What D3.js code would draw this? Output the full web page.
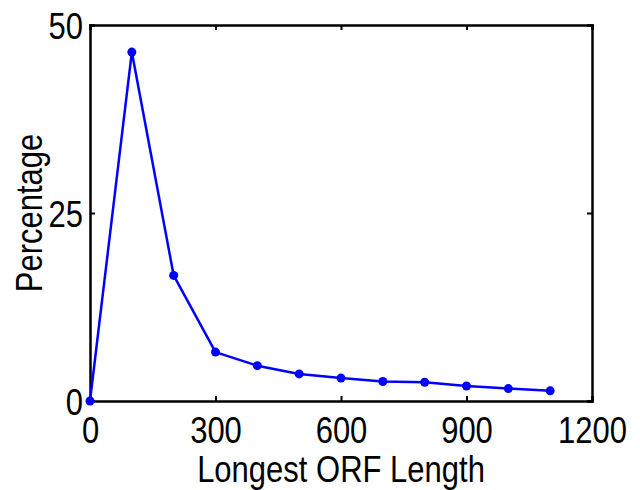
<!DOCTYPE html>
<html>
<head>
<meta charset="utf-8">
<script src="https://cdn.jsdelivr.net/npm/d3@7"></script>
<style>
  html, body { margin: 0; padding: 0; background: #fff; }
  svg { display: block; }
</style>
</head>
<body>
<div id="chart"></div>
<script>
// ORF length bins and percentage in each bin
const orfLengths = [0, 100, 200, 300, 400, 500, 600, 700, 800, 900, 1000, 1100];
const percentages = [0, 46.4, 16.7, 6.5, 4.7, 3.6, 3.05, 2.6, 2.5, 2.0, 1.65, 1.35];
const xTicks = [0, 300, 600, 900, 1200];
const yTicks = [0, 25, 50];

const width = 640;
const height = 490;
const margin = { top: 25, right: 48, bottom: 89, left: 90 };
const innerW = width - margin.left - margin.right;
const innerH = height - margin.top - margin.bottom;

// the figure's text is tall and narrow, so stretch a regular sans vertically
const font = "'Liberation Sans', Arial, sans-serif";
const fontSize = 31;
const stretch = 'scale(1,1.2)';

const data = orfLengths.map((d, i) => ({ len: d, pct: percentages[i] }));

const x = d3.scaleLinear().domain([0, 1200]).range([0, innerW]);
const y = d3.scaleLinear().domain([0, 50]).range([innerH, 0]);

const svg = d3.select('#chart')
  .append('svg')
  .attr('width', width)
  .attr('height', height)
  .style('font-family', font);

const g = svg.append('g')
  .attr('transform', `translate(${margin.left},${margin.top})`);

const styleBox = a => {
  a.select('.domain').attr('stroke', '#000').attr('stroke-width', 2.5);
  a.selectAll('.tick line').attr('stroke', '#000').attr('stroke-width', 2);
};

// Bottom axis with inward ticks
g.append('g')
  .attr('transform', `translate(0,${innerH})`)
  .call(d3.axisBottom(x).tickValues(xTicks).tickSize(-5).tickFormat(d3.format('d')))
  .call(styleBox)
  .call(a => a.selectAll('.tick text')
    .attr('y', 0).attr('dy', 0)
    .attr('transform', `translate(0,42) ${stretch}`)
    .attr('fill', '#000')
    .attr('font-size', fontSize)
    .attr('font-family', font));

// Left axis
g.append('g')
  .call(d3.axisLeft(y).tickValues(yTicks).tickSize(-5))
  .call(styleBox)
  .call(a => a.selectAll('.tick text')
    .attr('x', 0).attr('dy', '0.36em')
    .attr('transform', `translate(-7,0) ${stretch}`)
    .attr('fill', '#000')
    .attr('font-size', fontSize)
    .attr('font-family', font));

// Top and right box edges with mirrored ticks
g.append('g')
  .call(d3.axisTop(x).tickValues(xTicks).tickSize(-5).tickFormat(''))
  .call(styleBox);

g.append('g')
  .attr('transform', `translate(${innerW},0)`)
  .call(d3.axisRight(y).tickValues(yTicks).tickSize(-5).tickFormat(''))
  .call(styleBox);

// Line
const line = d3.line().x(d => x(d.len)).y(d => y(d.pct));

g.append('path')
  .datum(data)
  .attr('fill', 'none')
  .attr('stroke', '#0000ff')
  .attr('stroke-width', 2.5)
  .attr('stroke-linejoin', 'round')
  .attr('d', line);

g.selectAll('circle')
  .data(data)
  .join('circle')
  .attr('cx', d => x(d.len))
  .attr('cy', d => y(d.pct))
  .attr('r', 4.5)
  .attr('fill', '#0000ff');

// Axis titles
svg.append('text')
  .attr('transform', `translate(${margin.left + innerW / 2},482) ${stretch}`)
  .attr('text-anchor', 'middle')
  .attr('font-size', fontSize)
  .attr('fill', '#000')
  .text('Longest ORF Length');

svg.append('text')
  .attr('transform', `translate(42,${margin.top + innerH / 2}) rotate(-90) ${stretch}`)
  .attr('text-anchor', 'middle')
  .attr('font-size', fontSize)
  .attr('fill', '#000')
  .text('Percentage');
</script>
</body>
</html>
